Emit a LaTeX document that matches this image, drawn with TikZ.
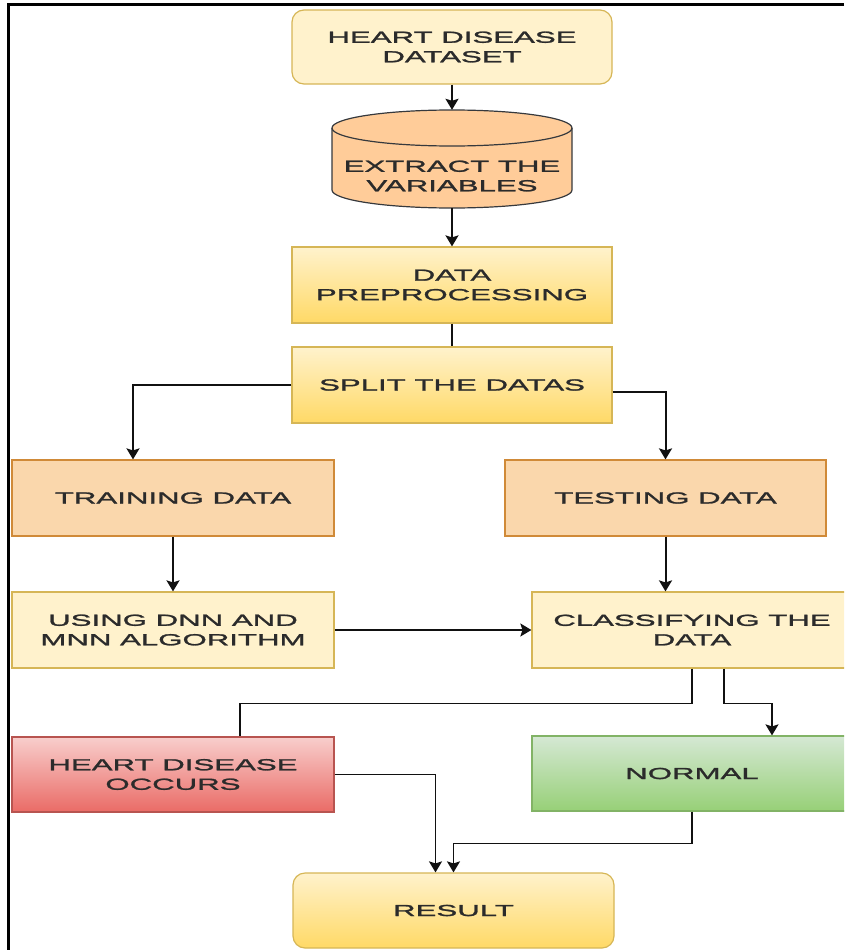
\documentclass[tikz,border=0pt]{standalone}
\usepackage{fontspec}
\setmainfont{Liberation Sans}[FakeStretch=1.95, FakeBold=1.6]
\usetikzlibrary{arrows.meta}
\definecolor{ylwlight}{HTML}{FFF2CC}
\definecolor{ylwdark}{HTML}{FFD966}
\definecolor{ylwline}{HTML}{D6B656}
\definecolor{cylfill}{HTML}{FFCC99}
\definecolor{cylline}{HTML}{36393D}
\definecolor{orgfill}{HTML}{FAD7AC}
\definecolor{orgline}{HTML}{D08A38}
\definecolor{redtop}{HTML}{F8CECC}
\definecolor{redbot}{HTML}{EA6B66}
\definecolor{redline}{HTML}{B85450}
\definecolor{grntop}{HTML}{D5E8D4}
\definecolor{grnbot}{HTML}{97D077}
\definecolor{grnline}{HTML}{82B366}
\definecolor{txtgray}{HTML}{2B2B2B}
\definecolor{linkgray}{HTML}{111111}

\begin{document}
\begin{tikzpicture}[x=1pt, y=-1pt, >={Stealth[length=11pt,width=13pt,inset=2pt]},
  font=\fontsize{16}{19.5}\selectfont,
  basebox/.style={rectangle, line width=1.2pt, minimum width=320pt, minimum height=76pt,
    align=center, text=txtgray, inner sep=0pt},
  ylwbox/.style={basebox, draw=ylwline, fill=ylwlight},
  ylwshade/.style={basebox, draw=ylwline, top color=ylwlight, bottom color=ylwdark},
  orgbox/.style={basebox, draw=orgline, fill=orgfill},
  redbox/.style={basebox, draw=redline, top color=redtop, bottom color=redbot},
  grnbox/.style={basebox, draw=grnline, top color=grntop, bottom color=grnbot},
  link/.style={line width=2pt, draw=linkgray},
  thinlink/.style={link, line width=1.6pt}]
  \useasboundingbox (0,0) rectangle (844,950);
  \clip (0,0) rectangle (844,950);

  % page frame (only top and left show)
  \draw[line width=3pt] (844,5) -- (8,5) -- (8,950);

  % top of the flow
  \node[ylwbox, rounded corners=12pt, minimum height=74pt] (dataset) at (452,47)
    {HEART DISEASE\\DATASET};

  % cylinder, drawn by hand
  \filldraw[fill=cylfill, draw=cylline, line width=1.2pt]
    (332,128) -- (332,190) arc[start angle=180, end angle=360, x radius=120pt, y radius=18pt]
    -- (572,128) arc[start angle=0, end angle=180, x radius=120pt, y radius=18pt] -- cycle;
  \draw[cylline, line width=1.2pt]
    (332,128) arc[start angle=180, end angle=360, x radius=120pt, y radius=18pt];
  \node[minimum width=240pt, minimum height=98pt, inner sep=0pt] (extract) at (452,159) {};
  \node[align=center, text=txtgray] (extracttxt) at (452,176) {EXTRACT THE\\VARIABLES};

  \node[ylwshade] (prep)  at (452,285) {DATA\\PREPROCESSING};
  \node[ylwshade] (split) at (452,385) {SPLIT THE DATAS};

  % the two branches
  \node[orgbox, minimum width=322pt] (train) at (173,498) {TRAINING DATA};
  \node[orgbox, minimum width=321pt] (test)  at (665.5,498) {TESTING DATA};
  \node[ylwbox, minimum width=322pt] (using) at (173,630) {USING DNN AND\\MNN ALGORITHM};
  \node[ylwbox] (classify) at (692,630) {CLASSIFYING THE\\DATA};

  % outcomes
  \node[redbox, minimum width=322pt, minimum height=75pt] (hdo) at (173,774.5)
    {HEART DISEASE\\OCCURS};
  \node[grnbox, minimum height=75pt] (normal) at (692,773.5) {NORMAL};
  \node[ylwshade, rounded corners=12pt, minimum width=321pt, minimum height=75pt] (result)
    at (453.5,910.5) {RESULT};

  % connectors
  \draw[link, ->] (dataset) -- (extract);
  \draw[link, ->] (extract) -- (prep);
  \draw[link] (prep) -- (split);
  \draw[link, ->] (split.west) -| ([xshift=-40pt]train.north);
  \draw[link, ->] ([yshift=-7pt]split.east) -| (test.north);
  \draw[link, ->] (train) -- (using);
  \draw[link, ->] (test.south) -- (test.south |- classify.north);
  \draw[thinlink, ->] (using) -- (classify);
  \draw[thinlink] (classify.south) -- ++(0,35) -| ([xshift=67pt]hdo.north);
  \draw[thinlink, ->] ([xshift=32pt]classify.south) -- ++(0,35)
    -| ([xshift=80pt]normal.north);
  \draw[thinlink, ->] (hdo.east) -| ([xshift=-18pt]result.north);
  \draw[thinlink, ->] (normal.south) -- ++(0,32) -| (result.north);
\end{tikzpicture}
\end{document}
